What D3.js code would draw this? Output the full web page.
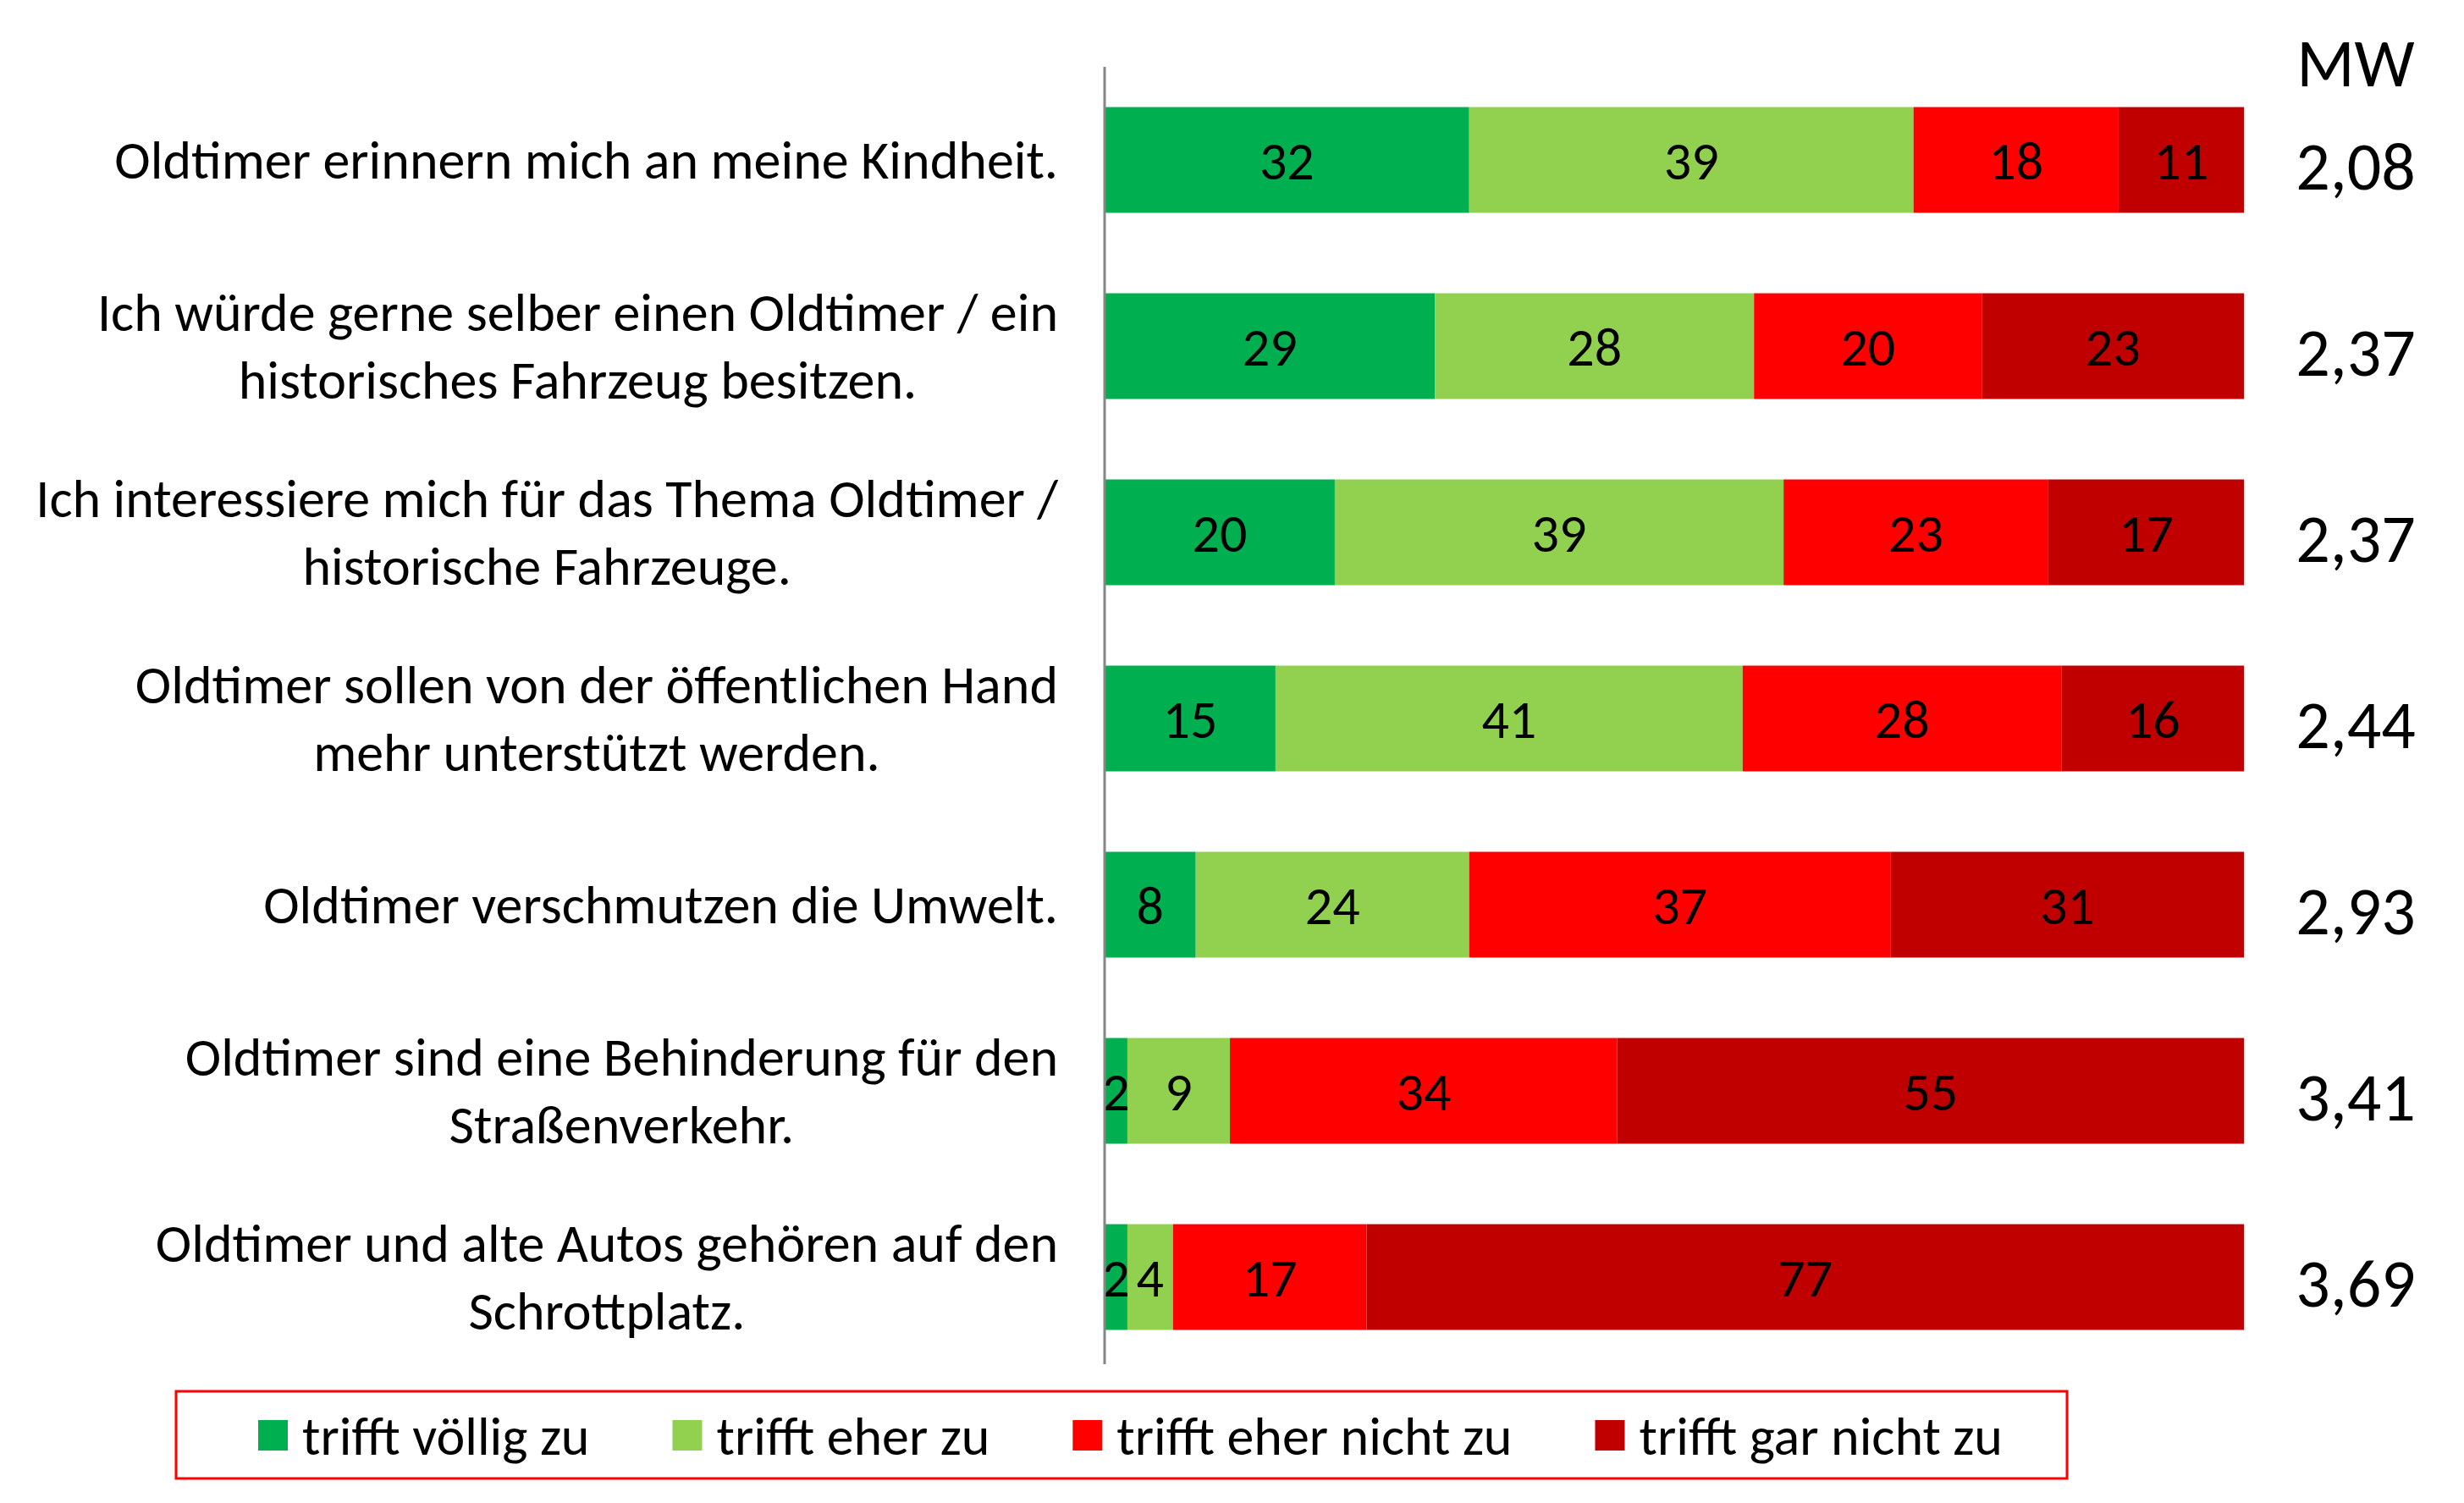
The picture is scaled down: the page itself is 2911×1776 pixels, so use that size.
<!DOCTYPE html>
<html>
<head>
<meta charset="utf-8">
<script src="https://cdn.jsdelivr.net/npm/d3@7"></script>
<style>
  body { margin: 0; background: #fff; }
  text { font-family: "Carlito", "Lato", sans-serif; fill: #000; }
</style>
</head>
<body>
<div id="chart"></div>
<script>
var categories = [
  "Oldtimer erinnern mich an meine Kindheit.",
  "Ich würde gerne selber einen Oldtimer / ein\nhistorisches Fahrzeug besitzen.",
  "Ich interessiere mich für das Thema Oldtimer /\nhistorische Fahrzeuge.",
  "Oldtimer sollen von der öffentlichen Hand\nmehr unterstützt werden.",
  "Oldtimer verschmutzen die Umwelt.",
  "Oldtimer sind eine Behinderung für den\nStraßenverkehr.",
  "Oldtimer und alte Autos gehören auf den\nSchrottplatz."
];
var seriesNames = ["trifft völlig zu", "trifft eher zu", "trifft eher nicht zu", "trifft gar nicht zu"];
var voellig   = [32, 29, 20, 15, 8, 2, 2];
var eher      = [39, 28, 39, 41, 24, 9, 4];
var eherNicht = [18, 20, 23, 28, 37, 34, 17];
var garNicht  = [11, 23, 17, 16, 31, 55, 77];
var mw = ["2,08", "2,37", "2,37", "2,44", "2,93", "3,41", "3,69"];
var colors = ["#00B050", "#92D050", "#FF0000", "#C00000"];

var W = 2911, H = 1776;
var svg = d3.select("#chart").append("svg")
    .attr("width", W)
    .attr("height", H);
svg.append("rect").attr("width", W).attr("height", H).attr("fill", "#fff");

var rows = categories.map(function(c, i){
  return {cat: c, s0: voellig[i], s1: eher[i], s2: eherNicht[i], s3: garNicht[i], mw: mw[i]};
});

var stack = d3.stack()
    .keys(["s0", "s1", "s2", "s3"])
    .offset(d3.stackOffsetExpand);
var layers = stack(rows);

var x = d3.scaleLinear().domain([0, 1]).range([1305, 2651]);
var y = d3.scaleBand().domain(categories).range([79, 1619])
    .paddingInner(0.432).paddingOuter(0.216);

// bars
var g = svg.selectAll("g.layer")
    .data(layers)
    .enter()
  .append("g")
    .attr("class", "layer")
    .attr("fill", function(d, i){ return colors[i]; });

g.selectAll("rect")
    .data(function(d){ return d; })
    .enter()
  .append("rect")
    .attr("x", function(d){ return x(d[0]); })
    .attr("width", function(d){ return x(d[1]) - x(d[0]); })
    .attr("y", function(d){ return y(d.data.cat); })
    .attr("height", y.bandwidth());

// data labels
layers.forEach(function(layer){
  svg.append("g").selectAll("text")
      .data(layer)
      .enter()
    .append("text")
      .attr("x", function(d){ return (x(d[0]) + x(d[1])) / 2; })
      .attr("y", function(d){ return y(d.data.cat) + y.bandwidth() / 2; })
      .attr("dy", "0.36em")
      .attr("text-anchor", "middle")
      .style("font-size", "64px")
      .text(function(d){ return d.data[layer.key]; });
});

// vertical axis line
svg.append("line")
    .attr("x1", x(0)).attr("x2", x(0))
    .attr("y1", y.range()[0]).attr("y2", y.range()[1] - 7)
    .attr("stroke", "#868686")
    .attr("stroke-width", 3);

// category labels: lines centred on each other, block right-aligned
var labelRight = 1250, lineH = 80;
categories.forEach(function(c){
  var lines = c.split("\n");
  var cy = y(c) + y.bandwidth() / 2;
  var t = svg.append("g");
  var nodes = lines.map(function(l, k){
    return t.append("text")
        .attr("y", cy + (k - (lines.length - 1) / 2) * lineH)
        .attr("dy", "0.34em")
        .attr("text-anchor", "middle")
        .style("font-size", "64px")
        .text(l);
  });
  var maxW = d3.max(nodes, function(n){ return n.node().getComputedTextLength(); });
  nodes.forEach(function(n){ n.attr("x", labelRight - maxW / 2); });
});

// MW column
svg.append("text")
    .attr("x", 2783).attr("y", 102)
    .attr("text-anchor", "middle")
    .style("font-size", "80px")
    .text("MW");
svg.append("g").selectAll("text")
    .data(rows)
    .enter()
  .append("text")
    .attr("x", 2783)
    .attr("y", function(d){ return y(d.cat) + y.bandwidth() / 2 + 6; })
    .attr("dy", "0.36em")
    .attr("text-anchor", "middle")
    .style("font-size", "80px")
    .text(function(d){ return d.mw; });

// legend
var lg = svg.append("g");
lg.append("rect")
    .attr("x", 208).attr("y", 1644)
    .attr("width", 2234).attr("height", 103)
    .attr("fill", "none")
    .attr("stroke", "#FF0000")
    .attr("stroke-width", 3);
var cx = 305;
seriesNames.forEach(function(name, i){
  var it = lg.append("g").attr("transform", "translate(" + cx + ",0)");
  it.append("rect")
      .attr("x", 0).attr("y", 1678)
      .attr("width", 35).attr("height", 36)
      .attr("fill", colors[i]);
  var tx = it.append("text")
      .attr("x", 52).attr("y", 1696)
      .attr("dy", "0.36em")
      .style("font-size", "64px")
      .text(name);
  cx += 52 + tx.node().getComputedTextLength() + 98;
});
</script>
</body>
</html>
